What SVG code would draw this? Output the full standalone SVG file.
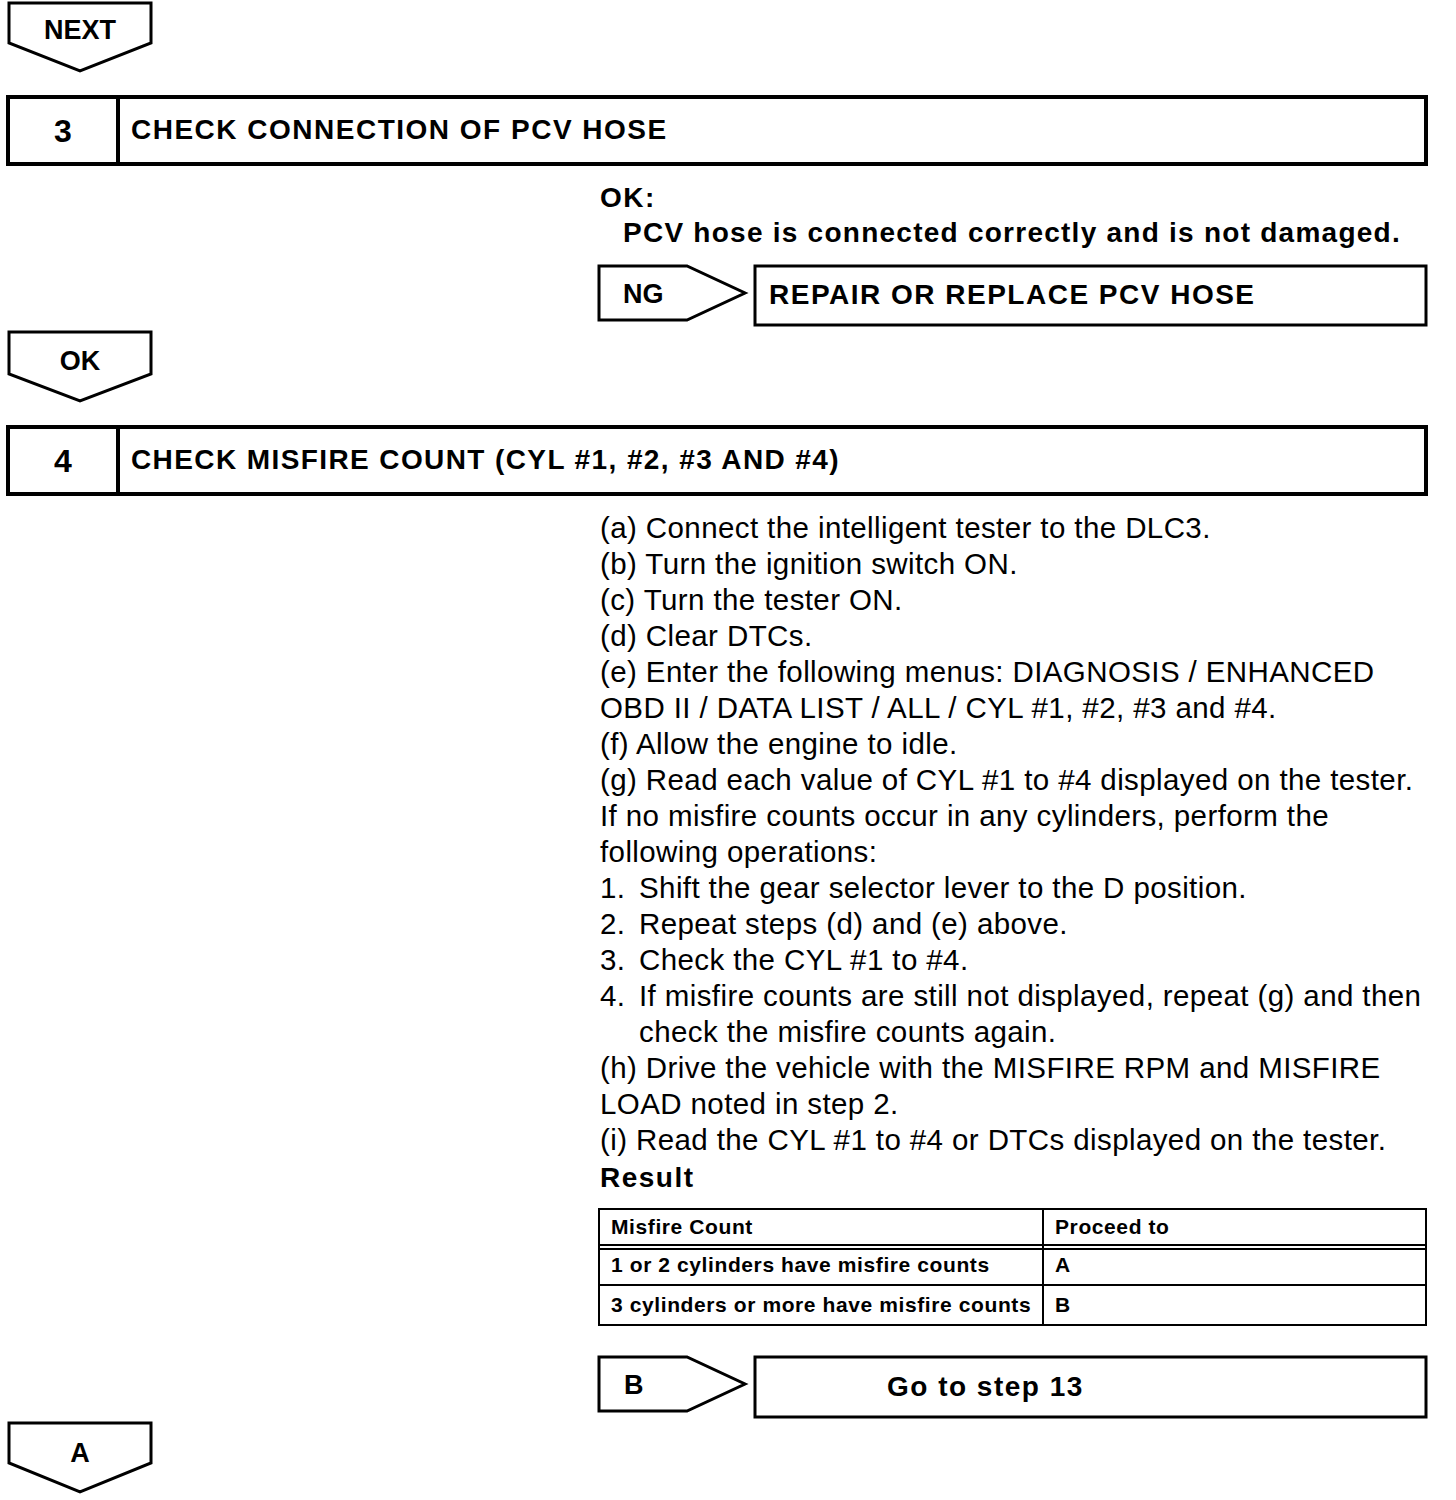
<svg xmlns="http://www.w3.org/2000/svg" width="1456" height="1500" viewBox="0 0 1456 1500">
<style>
.sh{fill:#fff;stroke:#000;stroke-width:3;stroke-linejoin:miter}
.bx{fill:#fff;stroke:#000;stroke-width:4}
.ln{stroke:#000;stroke-width:4}
.tl{stroke:#000;stroke-width:2;fill:none}
text{font-family:"Liberation Sans",Arial,sans-serif;fill:#000}
.b{font-weight:bold;font-size:28px;letter-spacing:1.5px}
.num{font-weight:bold;font-size:32px}
.lab{font-weight:bold;font-size:27px}
.r{font-size:29.5px;letter-spacing:0.4px}
.t{font-weight:bold;font-size:21px;letter-spacing:0.6px}
</style>
<rect width="1456" height="1500" fill="#fff"/>
<g id="connectors"></g>
<g id="next">
<polygon class="sh" points="9,3 151,3 151,43 80,71 9,43"/>
<text class="lab" x="80" y="39" text-anchor="middle">NEXT</text>
</g>
<g id="step3">
<rect class="bx" x="8" y="97" width="1418" height="67"/>
<line class="ln" x1="118" y1="97" x2="118" y2="164"/>
<text class="num" x="63" y="142" text-anchor="middle">3</text>
<text class="b" x="131" y="139">CHECK CONNECTION OF PCV HOSE</text>
</g>
<g id="ok-criteria">
<text class="b" x="600" y="207">OK:</text>
<text class="b" x="623" y="242" style="letter-spacing:1.25px">PCV hose is connected correctly and is not damaged.</text>
</g>
<g id="ng">
<polygon class="sh" points="599,266 687,266 745,293 687,320 599,320"/>
<text class="lab" x="623" y="303">NG</text>
</g>
<g id="repair">
<rect class="sh" x="755" y="266" width="671" height="59"/>
<text class="b" x="769" y="304">REPAIR OR REPLACE PCV HOSE</text>
</g>
<g id="ok">
<polygon class="sh" points="9,332 151,332 151,374 80,401 9,374"/>
<text class="lab" x="80" y="370" text-anchor="middle">OK</text>
</g>
<g id="step4">
<rect class="bx" x="8" y="427" width="1418" height="67"/>
<line class="ln" x1="118" y1="427" x2="118" y2="494"/>
<text class="num" x="63" y="472" text-anchor="middle">4</text>
<text class="b" x="131" y="469" style="letter-spacing:1.4px">CHECK MISFIRE COUNT (CYL #1, #2, #3 AND #4)</text>
</g>
<g id="procedure">
<text class="r" x="600" y="538">(a) Connect the intelligent tester to the DLC3.</text>
<text class="r" x="600" y="574">(b) Turn the ignition switch ON.</text>
<text class="r" x="600" y="610">(c) Turn the tester ON.</text>
<text class="r" x="600" y="646">(d) Clear DTCs.</text>
<text class="r" x="600" y="682">(e) Enter the following menus: DIAGNOSIS / ENHANCED</text>
<text class="r" x="600" y="718">OBD II / DATA LIST / ALL / CYL #1, #2, #3 and #4.</text>
<text class="r" x="600" y="754">(f) Allow the engine to idle.</text>
<text class="r" x="600" y="790">(g) Read each value of CYL #1 to #4 displayed on the tester.</text>
<text class="r" x="600" y="826">If no misfire counts occur in any cylinders, perform the</text>
<text class="r" x="600" y="862">following operations:</text>
<text class="r" x="600" y="898">1.</text><text class="r" x="639" y="898">Shift the gear selector lever to the D position.</text>
<text class="r" x="600" y="934">2.</text><text class="r" x="639" y="934">Repeat steps (d) and (e) above.</text>
<text class="r" x="600" y="970">3.</text><text class="r" x="639" y="970">Check the CYL #1 to #4.</text>
<text class="r" x="600" y="1006">4.</text><text class="r" x="639" y="1006">If misfire counts are still not displayed, repeat (g) and then</text>
<text class="r" x="639" y="1042">check the misfire counts again.</text>
<text class="r" x="600" y="1078">(h) Drive the vehicle with the MISFIRE RPM and MISFIRE</text>
<text class="r" x="600" y="1114">LOAD noted in step 2.</text>
<text class="r" x="600" y="1150">(i) Read the CYL #1 to #4 or DTCs displayed on the tester.</text>
<text class="b" x="600" y="1187">Result</text>
</g>
<g id="result-table">
<rect class="tl" x="599" y="1209" width="827" height="116"/>
<line class="tl" x1="599" y1="1245" x2="1426" y2="1245"/>
<line class="tl" x1="599" y1="1249" x2="1426" y2="1249"/>
<line class="tl" x1="599" y1="1285" x2="1426" y2="1285"/>
<line class="tl" x1="1043" y1="1209" x2="1043" y2="1325"/>
<text class="t" x="611" y="1234">Misfire Count</text>
<text class="t" x="1055" y="1234">Proceed to</text>
<text class="t" x="611" y="1272">1 or 2 cylinders have misfire counts</text>
<text class="t" x="1055" y="1272">A</text>
<text class="t" x="611" y="1312">3 cylinders or more have misfire counts</text>
<text class="t" x="1055" y="1312">B</text>
</g>
<g id="b">
<polygon class="sh" points="599,1357 687,1357 745,1384 687,1411 599,1411"/>
<text class="lab" x="624" y="1394">B</text>
</g>
<g id="goto13">
<rect class="sh" x="755" y="1357" width="671" height="60"/>
<text class="b" x="887" y="1396">Go to step 13</text>
</g>
<g id="a">
<polygon class="sh" points="9,1423 151,1423 151,1463 80,1492 9,1463"/>
<text class="lab" x="80" y="1462" text-anchor="middle">A</text>
</g>
</svg>
